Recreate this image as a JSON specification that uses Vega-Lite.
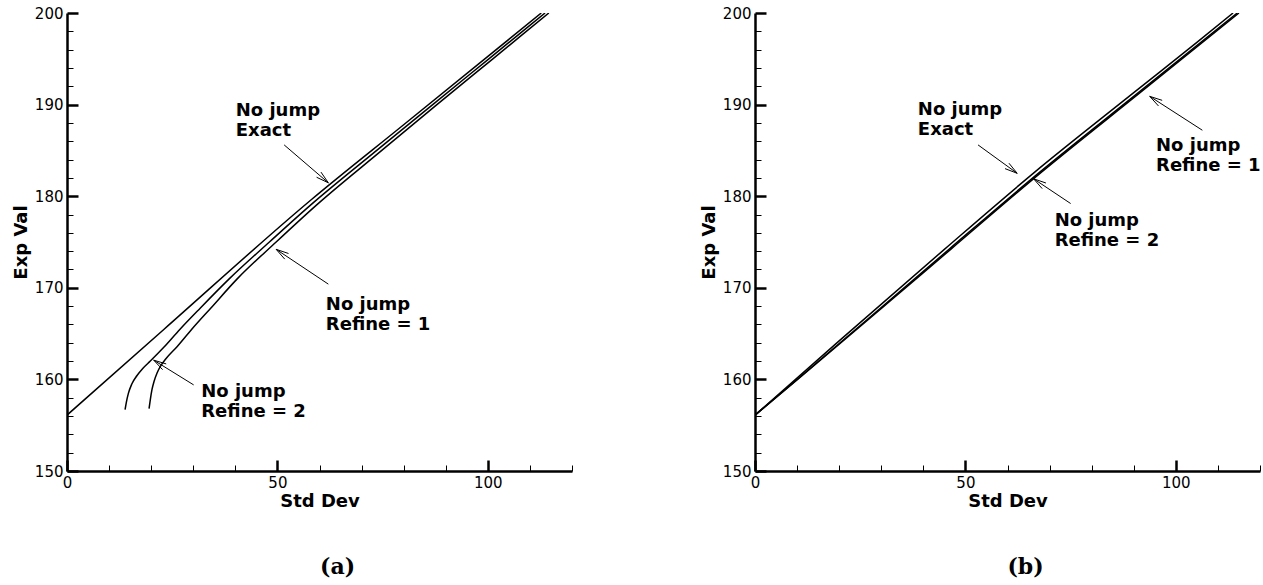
{
  "$schema": "https://vega.github.io/schema/vega-lite/v6.json",
  "padding": {"left": 12, "top": 6, "right": 0, "bottom": 0},
  "autosize": {"type": "pad"},
  "background": "white",
  "config": {"view": {"stroke": null}, "font": "DejaVu Sans"},
  "spacing": 127,
  "datasets": {
    "linesA": [
      {"series": "Exact", "x": 0, "y": 156.1}, {"series": "Exact", "x": 23, "y": 165.45}, {"series": "Exact", "x": 58.1, "y": 179.64}, {"series": "Exact", "x": 80, "y": 187.8}, {"series": "Exact", "x": 105.2, "y": 197.2}, {"series": "Exact", "x": 112.7, "y": 200},
      {"series": "Refine2", "x": 13.8, "y": 156.7}, {"series": "Refine2", "x": 14.1, "y": 157.5}, {"series": "Refine2", "x": 14.6, "y": 158.5}, {"series": "Refine2", "x": 15.4, "y": 159.5}, {"series": "Refine2", "x": 16.6, "y": 160.4}, {"series": "Refine2", "x": 18.0, "y": 161.2}, {"series": "Refine2", "x": 19.8, "y": 162.0}, {"series": "Refine2", "x": 23.0, "y": 163.5}, {"series": "Refine2", "x": 26.8, "y": 165.45}, {"series": "Refine2", "x": 31.7, "y": 167.8}, {"series": "Refine2", "x": 38.6, "y": 171}, {"series": "Refine2", "x": 48.1, "y": 175}, {"series": "Refine2", "x": 57.8, "y": 179}, {"series": "Refine2", "x": 73.6, "y": 185}, {"series": "Refine2", "x": 86.9, "y": 190}, {"series": "Refine2", "x": 100.25, "y": 195}, {"series": "Refine2", "x": 113.6, "y": 200},
      {"series": "Refine1", "x": 19.5, "y": 156.8}, {"series": "Refine1", "x": 19.8, "y": 157.8}, {"series": "Refine1", "x": 20.2, "y": 158.9}, {"series": "Refine1", "x": 20.7, "y": 159.8}, {"series": "Refine1", "x": 21.4, "y": 160.7}, {"series": "Refine1", "x": 22.3, "y": 161.5}, {"series": "Refine1", "x": 23.4, "y": 162.2}, {"series": "Refine1", "x": 26.2, "y": 163.6}, {"series": "Refine1", "x": 29.6, "y": 165.45}, {"series": "Refine1", "x": 34.2, "y": 167.8}, {"series": "Refine1", "x": 40.5, "y": 171}, {"series": "Refine1", "x": 49.7, "y": 175}, {"series": "Refine1", "x": 59.2, "y": 179}, {"series": "Refine1", "x": 74.8, "y": 185}, {"series": "Refine1", "x": 87.9, "y": 190}, {"series": "Refine1", "x": 101.2, "y": 195}, {"series": "Refine1", "x": 114.5, "y": 200}
    ],
    "linesB": [
      {"series": "Exact", "x": 0, "y": 156.1}, {"series": "Exact", "x": 20, "y": 164.2}, {"series": "Exact", "x": 45, "y": 174.2}, {"series": "Exact", "x": 66.4, "y": 182.6}, {"series": "Exact", "x": 90, "y": 191.3}, {"series": "Exact", "x": 105, "y": 196.8}, {"series": "Exact", "x": 113.6, "y": 200},
      {"series": "Refine2", "x": 0, "y": 156.1}, {"series": "Refine2", "x": 10.3, "y": 160.1}, {"series": "Refine2", "x": 30.9, "y": 168.2}, {"series": "Refine2", "x": 46.1, "y": 174.2}, {"series": "Refine2", "x": 67.6, "y": 182.6}, {"series": "Refine2", "x": 91.1, "y": 191.3}, {"series": "Refine2", "x": 114.6, "y": 200},
      {"series": "Refine1", "x": 0, "y": 156.1}, {"series": "Refine1", "x": 10.4, "y": 160.1}, {"series": "Refine1", "x": 31.2, "y": 168.2}, {"series": "Refine1", "x": 46.5, "y": 174.2}, {"series": "Refine1", "x": 68.0, "y": 182.6}, {"series": "Refine1", "x": 91.5, "y": 191.3}, {"series": "Refine1", "x": 115.0, "y": 200}
    ],
    "arrowsA": [
      {"x": 51.6, "y": 185.6, "x2": 62.1, "y2": 181.46}, {"x": 59.31, "y": 182.07, "x2": 62.1, "y2": 181.46}, {"x": 60.35, "y": 182.63, "x2": 62.1, "y2": 181.46},
      {"x": 62.1, "y": 170.4, "x2": 49.7, "y2": 174.2}, {"x": 52.63, "y": 173.745, "x2": 49.7, "y2": 174.2}, {"x": 51.74, "y": 173.13, "x2": 49.7, "y2": 174.2},
      {"x": 30.1, "y": 159.4, "x2": 20.6, "y2": 162.1}, {"x": 23.57, "y": 161.69, "x2": 20.6, "y2": 162.1}, {"x": 22.72, "y": 161.065, "x2": 20.6, "y2": 162.1}
    ],
    "arrowsB": [
      {"x": 53.0, "y": 185.6, "x2": 62.3, "y2": 182.5}, {"x": 59.41, "y": 183.01, "x2": 62.3, "y2": 182.5}, {"x": 60.35, "y": 183.6, "x2": 62.3, "y2": 182.5},
      {"x": 75.0, "y": 179.2, "x2": 66.2, "y2": 181.9}, {"x": 69.13, "y": 181.44, "x2": 66.2, "y2": 181.9}, {"x": 68.24, "y": 180.83, "x2": 66.2, "y2": 181.9},
      {"x": 106.3, "y": 187.2, "x2": 93.8, "y2": 190.9}, {"x": 96.75, "y": 190.465, "x2": 93.8, "y2": 190.9}, {"x": 95.88, "y": 189.85, "x2": 93.8, "y2": 190.9}
    ],
    "labelsA": [
      {"x": 40.1, "y": 188.8, "text": "No jump\nExact"},
      {"x": 61.5, "y": 167.55, "text": "No jump\nRefine = 1"},
      {"x": 31.9, "y": 158.1, "text": "No jump\nRefine = 2"}
    ],
    "labelsB": [
      {"x": 38.7, "y": 188.9, "text": "No jump\nExact"},
      {"x": 71.2, "y": 176.7, "text": "No jump\nRefine = 2"},
      {"x": 95.3, "y": 184.9, "text": "No jump\nRefine = 1"}
    ]
  },
  "hconcat": [
    {
      "width": 505, "height": 458,
      "title": {"text": "(a)", "orient": "bottom", "font": "DejaVu Serif", "fontSize": 22, "fontWeight": "bold", "color": "black", "offset": 47, "dx": 18},
      "resolve": {"axis": {"x": "independent", "y": "independent"}},
      "layer": [
        {
          "data": {"name": "linesA"},
          "mark": {"type": "line", "color": "black", "strokeWidth": 1.5, "clip": true, "interpolate": "monotone"},
          "encoding": {
            "x": {"field": "x", "type": "quantitative", "scale": {"domain": [0, 120], "nice": false, "zero": false},
              "axis": {"orient": "bottom", "values": [0, 50, 100], "tickSize": -11, "tickWidth": 2.5,
                "tickColor": "black", "domainColor": "black", "domainWidth": 2.5, "grid": false,
                "labelFont": "DejaVu Sans", "labelFontSize": 15, "labelColor": "black", "labelPadding": 15, "labelFlush": false, "labelOverlap": false,
                "title": "Std Dev", "titleFont": "DejaVu Sans", "titleFontSize": 18, "titleFontWeight": "bold", "titleColor": "black", "titlePadding": 2}},
            "y": {"field": "y", "type": "quantitative", "scale": {"domain": [150, 200], "nice": false, "zero": false},
              "axis": {"orient": "left", "values": [150, 160, 170, 180, 190, 200], "tickSize": -11, "tickWidth": 2.5,
                "tickColor": "black", "domainColor": "black", "domainWidth": 2.5, "grid": false,
                "labelFont": "DejaVu Sans", "labelFontSize": 15, "labelColor": "black", "labelPadding": 15, "labelFlush": false, "labelOverlap": false,
                "title": "Exp Val", "titleFont": "DejaVu Sans", "titleFontSize": 18, "titleFontWeight": "bold", "titleColor": "black", "titlePadding": 4}},
            "detail": {"field": "series", "type": "nominal"}
          }
        },
        {
          "data": {"name": "arrowsA"},
          "mark": {"type": "rule", "color": "black", "strokeWidth": 1},
          "encoding": {
            "x": {"field": "x", "type": "quantitative", "axis": {"orient": "bottom", "values": [10, 20, 30, 40, 60, 70, 80, 90, 110, 120], "tickSize": -6, "tickWidth": 1, "tickColor": "black", "labels": false, "domain": false, "grid": false, "title": null}},
            "y": {"field": "y", "type": "quantitative", "axis": {"orient": "left", "values": [152, 154, 156, 158, 162, 164, 166, 168, 172, 174, 176, 178, 182, 184, 186, 188, 192, 194, 196, 198], "tickSize": -6, "tickWidth": 1, "tickColor": "black", "labels": false, "domain": false, "grid": false, "title": null}},
            "x2": {"field": "x2"}, "y2": {"field": "y2"}
          }
        },
        {
          "data": {"name": "labelsA"},
          "mark": {"type": "text", "align": "left", "baseline": "alphabetic", "font": "DejaVu Sans", "fontWeight": "bold", "fontSize": 18, "lineBreak": "\n", "lineHeight": 20, "color": "black"},
          "encoding": {"x": {"field": "x", "type": "quantitative", "axis": null}, "y": {"field": "y", "type": "quantitative", "axis": null}, "text": {"field": "text"}}
        }
      ]
    },
    {
      "width": 505, "height": 458,
      "title": {"text": "(b)", "orient": "bottom", "font": "DejaVu Serif", "fontSize": 22, "fontWeight": "bold", "color": "black", "offset": 47, "dx": 18},
      "resolve": {"axis": {"x": "independent", "y": "independent"}},
      "layer": [
        {
          "data": {"name": "linesB"},
          "mark": {"type": "line", "color": "black", "strokeWidth": 1.5, "clip": true, "interpolate": "monotone"},
          "encoding": {
            "x": {"field": "x", "type": "quantitative", "scale": {"domain": [0, 120], "nice": false, "zero": false},
              "axis": {"orient": "bottom", "values": [0, 50, 100], "tickSize": -11, "tickWidth": 2.5,
                "tickColor": "black", "domainColor": "black", "domainWidth": 2.5, "grid": false,
                "labelFont": "DejaVu Sans", "labelFontSize": 15, "labelColor": "black", "labelPadding": 15, "labelFlush": false, "labelOverlap": false,
                "title": "Std Dev", "titleFont": "DejaVu Sans", "titleFontSize": 18, "titleFontWeight": "bold", "titleColor": "black", "titlePadding": 2}},
            "y": {"field": "y", "type": "quantitative", "scale": {"domain": [150, 200], "nice": false, "zero": false},
              "axis": {"orient": "left", "values": [150, 160, 170, 180, 190, 200], "tickSize": -11, "tickWidth": 2.5,
                "tickColor": "black", "domainColor": "black", "domainWidth": 2.5, "grid": false,
                "labelFont": "DejaVu Sans", "labelFontSize": 15, "labelColor": "black", "labelPadding": 15, "labelFlush": false, "labelOverlap": false,
                "title": "Exp Val", "titleFont": "DejaVu Sans", "titleFontSize": 18, "titleFontWeight": "bold", "titleColor": "black", "titlePadding": 4}},
            "detail": {"field": "series", "type": "nominal"}
          }
        },
        {
          "data": {"name": "arrowsB"},
          "mark": {"type": "rule", "color": "black", "strokeWidth": 1},
          "encoding": {
            "x": {"field": "x", "type": "quantitative", "axis": {"orient": "bottom", "values": [10, 20, 30, 40, 60, 70, 80, 90, 110, 120], "tickSize": -6, "tickWidth": 1, "tickColor": "black", "labels": false, "domain": false, "grid": false, "title": null}},
            "y": {"field": "y", "type": "quantitative", "axis": {"orient": "left", "values": [152, 154, 156, 158, 162, 164, 166, 168, 172, 174, 176, 178, 182, 184, 186, 188, 192, 194, 196, 198], "tickSize": -6, "tickWidth": 1, "tickColor": "black", "labels": false, "domain": false, "grid": false, "title": null}},
            "x2": {"field": "x2"}, "y2": {"field": "y2"}
          }
        },
        {
          "data": {"name": "labelsB"},
          "mark": {"type": "text", "align": "left", "baseline": "alphabetic", "font": "DejaVu Sans", "fontWeight": "bold", "fontSize": 18, "lineBreak": "\n", "lineHeight": 20, "color": "black"},
          "encoding": {"x": {"field": "x", "type": "quantitative", "axis": null}, "y": {"field": "y", "type": "quantitative", "axis": null}, "text": {"field": "text"}}
        }
      ]
    }
  ]
}
